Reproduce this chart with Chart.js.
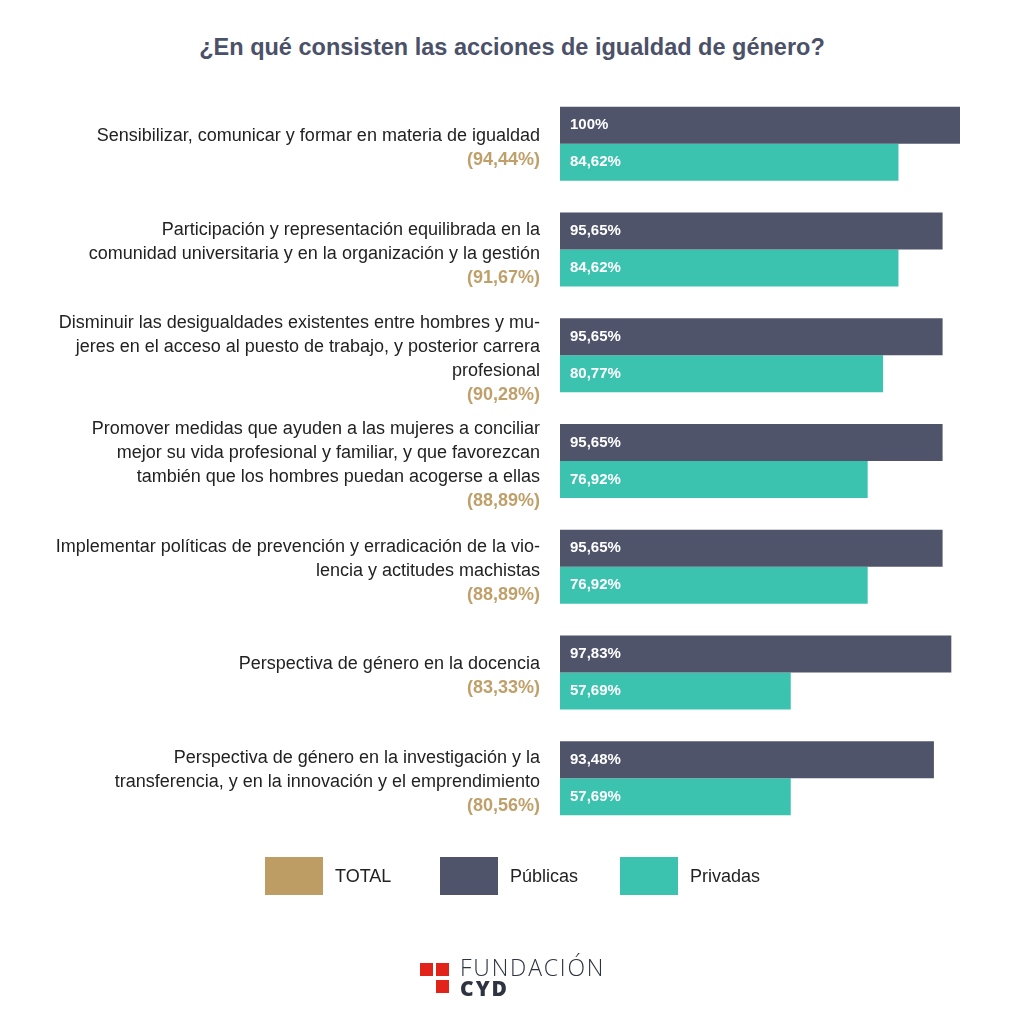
<!DOCTYPE html>
<html>
<head>
<meta charset="utf-8">
<script src="https://cdn.jsdelivr.net/npm/chart.js@4.4.1/dist/chart.umd.min.js"></script>
<style>
  body { margin: 0; background: #fff; font-family: "Liberation Sans", Arial, sans-serif; }
  #wrap { position: relative; width: 1024px; height: 1024px; overflow: hidden; }
  #chart { position: absolute; left: 0; top: 0; }
  #title { position: absolute; top: 34px; left: 0; width: 1024px; text-align: center;
           font-weight: bold; font-size: 23.5px; color: #4b5168; }
  .leg { position: absolute; top: 857px; height: 38px; display: flex; align-items: center; }
  .leg .box { width: 58px; height: 38px; margin-right: 12px; }
  .leg span { font-size: 18px; color: #222; }
  #logo { position: absolute; left: 420px; top: 955px; }
  #logo .sq { position: absolute; width: 13px; height: 13px; background: #e2231a; }
  #logo .t1 { position: absolute; left: 40px; top: 0; font-size: 23px; letter-spacing: 1.8px;
              color: #2d3340; font-family: "Open Sans", sans-serif; font-weight: 300; line-height: 24px; white-space: nowrap; }
  #logo .t2 { position: absolute; left: 40px; top: 22px; font-size: 21px; letter-spacing: 2px;
              color: #2d3340; font-family: "Open Sans", sans-serif; font-weight: 800; line-height: 22px; }
</style>
</head>
<body>
<div id="wrap">
  <div id="title">¿En qué consisten las acciones de igualdad de género?</div>
  <canvas id="chart" width="1024" height="1024"></canvas>
  <div class="leg" style="left:265px"><div class="box" style="background:#bd9d64"></div><span>TOTAL</span></div>
  <div class="leg" style="left:440px"><div class="box" style="background:#4f546b"></div><span>Públicas</span></div>
  <div class="leg" style="left:620px"><div class="box" style="background:#3cc3b0"></div><span>Privadas</span></div>
  <div id="logo">
    <div class="sq" style="left:0;top:8px"></div>
    <div class="sq" style="left:16px;top:8px"></div>
    <div class="sq" style="left:16px;top:25px"></div>
    <div class="t1">FUNDACIÓN</div>
    <div class="t2">CYD</div>
  </div>
</div>
<script>
// categories (each one split in lines as in the original)
const categories = [
    ['Sensibilizar, comunicar y formar en materia de igualdad'],
    ['Participación y representación equilibrada en la', 'comunidad universitaria y en la organización y la gestión'],
    ['Disminuir las desigualdades existentes entre hombres y mu-', 'jeres en el acceso al puesto de trabajo, y posterior carrera', 'profesional'],
    ['Promover medidas que ayuden a las mujeres a conciliar', 'mejor su vida profesional y familiar, y que favorezcan', 'también que los hombres puedan acogerse a ellas'],
    ['Implementar políticas de prevención y erradicación de la vio-', 'lencia y actitudes machistas'],
    ['Perspectiva de género en la docencia'],
    ['Perspectiva de género en la investigación y la', 'transferencia, y en la innovación y el emprendimiento']
];
const total = [94.44, 91.67, 90.28, 88.89, 88.89, 83.33, 80.56];
const publicas = [100, 95.65, 95.65, 95.65, 95.65, 97.83, 93.48];
const privadas = [84.62, 84.62, 80.77, 76.92, 76.92, 57.69, 57.69];

function fmt(v) {
    return (Number.isInteger(v) ? String(v) : v.toFixed(2).replace('.', ',')) + '%';
}

// labels on the left, with the TOTAL value in gold
const sideLabels = {
    id: 'sideLabels',
    afterDraw(chart) {
        const ctx = chart.ctx;
        const yScale = chart.scales.y;
        const right = chart.chartArea.left - 20;
        const lh = 24;
        ctx.save();
        ctx.textAlign = 'right';
        ctx.textBaseline = 'middle';
        categories.forEach((lines, i) => {
            const cy = yScale.getPixelForTick(i) + 4;
            const n = lines.length + 1;
            let y = cy - (n - 1) * lh / 2;
            ctx.font = '18px "Liberation Sans", Arial, sans-serif';
            ctx.fillStyle = '#222';
            lines.forEach(line => {
                ctx.fillText(line, right, y);
                y += lh;
            });
            ctx.font = 'bold 18px "Liberation Sans", Arial, sans-serif';
            ctx.fillStyle = '#c0a06a';
            ctx.fillText('(' + fmt(total[i]) + ')', right, y);
        });
        ctx.restore();
    }
};

// value labels inside the bars
const barValues = {
    id: 'barValues',
    afterDatasetsDraw(chart) {
        const ctx = chart.ctx;
        ctx.save();
        ctx.font = 'bold 15px "Liberation Sans", Arial, sans-serif';
        ctx.fillStyle = '#fff';
        ctx.textAlign = 'left';
        ctx.textBaseline = 'middle';
        chart.data.datasets.forEach((ds, di) => {
            chart.getDatasetMeta(di).data.forEach((bar, i) => {
                ctx.fillText(fmt(ds.data[i]), bar.base + 10, bar.y);
            });
        });
        ctx.restore();
    }
};

new Chart(document.getElementById('chart'), {
    type: 'bar',
    data: {
        labels: categories.map(c => c.join(' ')),
        datasets: [
            { label: 'Públicas', data: publicas, backgroundColor: '#4f546b' },
            { label: 'Privadas', data: privadas, backgroundColor: '#3cc3b0' }
        ]
    },
    options: {
        indexAxis: 'y',
        responsive: false,
        animation: false,
        layout: {
            padding: { left: 560, right: 64, top: 91, bottom: 193 }
        },
        datasets: {
            bar: { categoryPercentage: 0.7, barPercentage: 1.0 }
        },
        plugins: {
            legend: { display: false },
            tooltip: { enabled: false }
        },
        scales: {
            x: { min: 0, max: 100, display: false },
            y: { display: false }
        }
    },
    plugins: [sideLabels, barValues]
});
</script>
</body>
</html>
